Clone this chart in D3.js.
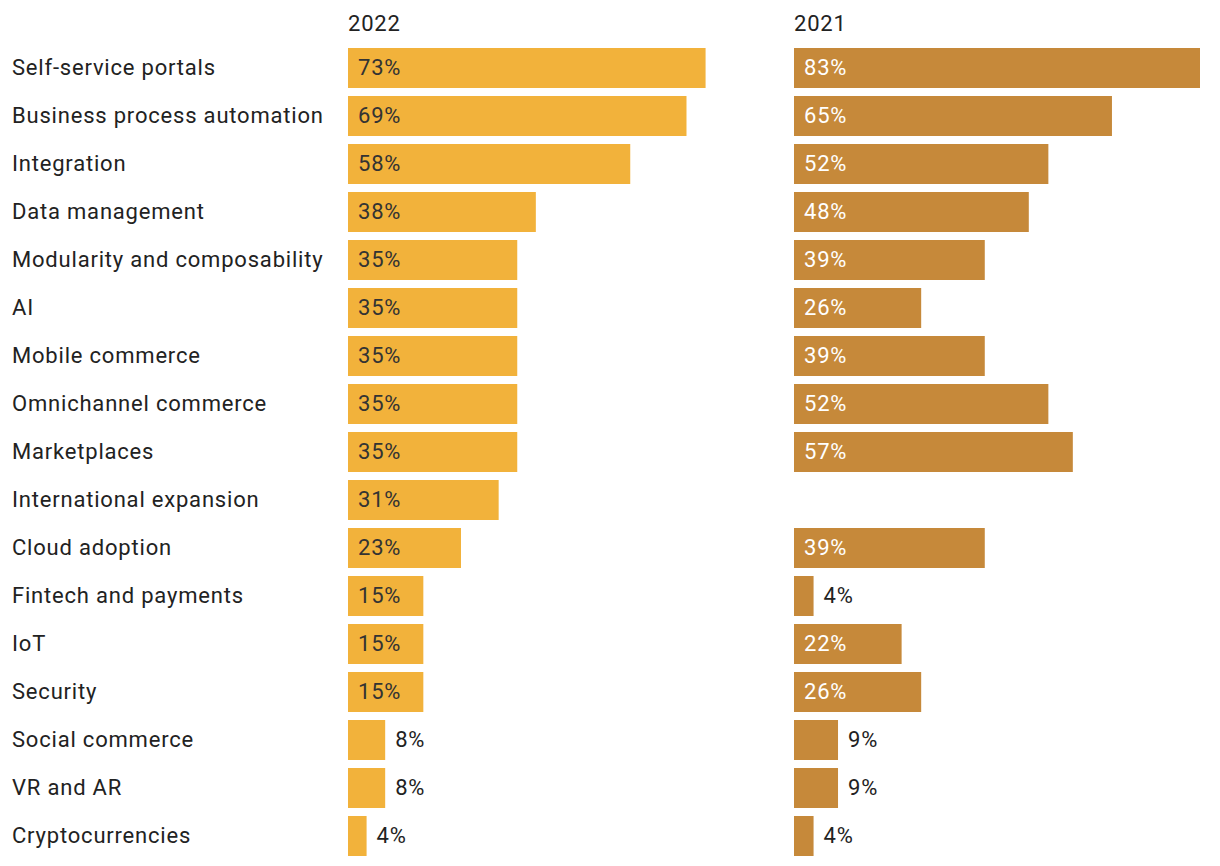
<!DOCTYPE html>
<html><head><meta charset="utf-8">
<script src="https://cdn.jsdelivr.net/npm/d3@7"></script>
<style>body{margin:0;background:#fff;} text{font-family:Roboto, "Noto Sans", sans-serif;}</style>
</head><body>
<svg id="chart" width="1220" height="866"></svg>
<script>
const categories = ["Self-service portals","Business process automation","Integration","Data management","Modularity and composability","AI","Mobile commerce","Omnichannel commerce","Marketplaces","International expansion","Cloud adoption","Fintech and payments","IoT","Security","Social commerce","VR and AR","Cryptocurrencies"];
const values2022 = [73.1,69.2,57.7,38.4,34.6,34.6,34.6,34.6,34.6,30.8,23.1,15.4,15.4,15.4,7.6,7.6,3.8];
const values2021 = [83,65,52,48,39,26,39,52,57,null,39,4,22,26,9,9,4];
const seriesNames = ["2022","2021"];

const svg = d3.select("#chart");
const y = d3.scaleBand().domain(categories).range([44, 860]).paddingInner(8/48).paddingOuter(4/48);
const x = d3.scaleLinear().domain([0, 83]).range([0, 406]);
const panels = [
  {name: seriesNames[0], values: values2022, x0: 348, fill: "#F2B23B", inText: "#333333"},
  {name: seriesNames[1], values: values2021, x0: 794, fill: "#C6893A", inText: "#ffffff"}
];
const fs = 22, ls = "0.8px";
svg.selectAll("text.cat").data(categories).join("text")
  .attr("class","cat").attr("x",12).attr("y",d=>y(d)+y.bandwidth()/2)
  .attr("dy","0.34em").attr("font-size",fs).attr("letter-spacing",ls).attr("fill","#222").text(d=>d);

panels.forEach(p=>{
  const g = svg.append("g").attr("transform",`translate(${p.x0},0)`);
  g.append("text").attr("x",0).attr("y",31).attr("font-size",fs).attr("letter-spacing",ls).attr("fill","#222").text(p.name);
  const data = categories.map((c,i)=>({c, v:p.values[i]})).filter(d=>d.v!=null);
  g.selectAll("rect").data(data).join("rect")
    .attr("x",0).attr("y",d=>y(d.c)).attr("height",y.bandwidth())
    .attr("width",d=>x(d.v)).attr("fill",p.fill);
  g.selectAll("text.val").data(data).join("text").attr("class","val")
    .attr("x",d=> x(d.v) > 60 ? 10 : x(d.v)+10)
    .attr("y",d=>y(d.c)+y.bandwidth()/2).attr("dy","0.34em")
    .attr("font-size",fs).attr("letter-spacing",ls)
    .attr("fill",d=> x(d.v) > 60 ? p.inText : "#222")
    .text(d=>Math.round(d.v)+"%");
});
</script>
</body></html>
